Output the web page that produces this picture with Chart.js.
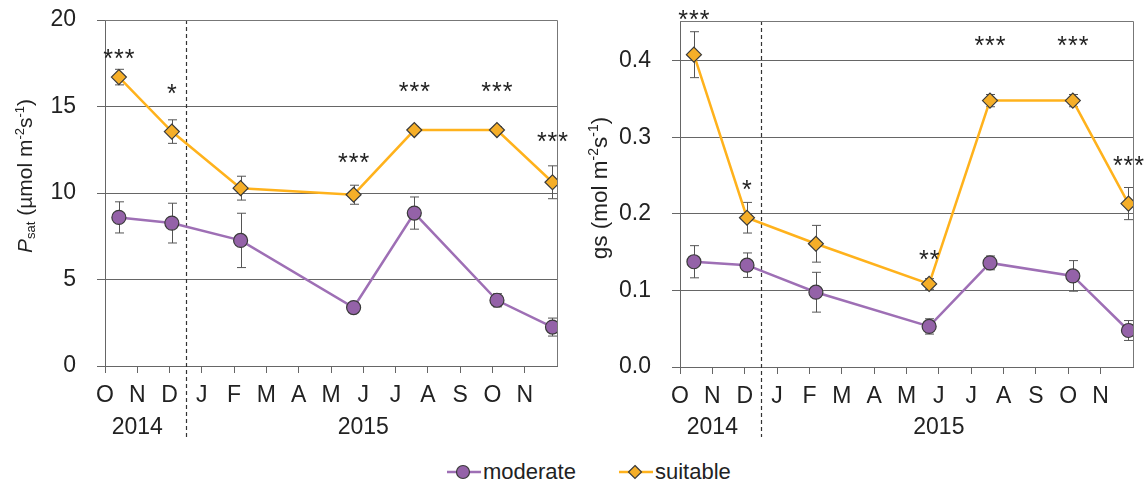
<!DOCTYPE html>
<html>
<head>
<meta charset="utf-8">
<script src="https://cdn.jsdelivr.net/npm/chart.js@4.4.1/dist/chart.umd.min.js"></script>
<style>
  html, body { margin: 0; padding: 0; background: #fff; }
  body { width: 1148px; height: 483px; position: relative; overflow: hidden; font-family: "Liberation Sans", Arial, sans-serif; }
  .panel { position: absolute; top: 0; height: 450px; }
  #legend { position: absolute; left: 447px; top: 459px; height: 26px; display: flex; align-items: center; font-size: 22px; color: #222; }
  #legend .item { display: flex; align-items: center; }
  #legend svg { display: block; margin-right: 2px; }
</style>
</head>
<body>
<div class="panel" style="left:0;width:572px"><canvas id="psat"></canvas></div>
<div class="panel" style="left:575px;width:573px"><canvas id="gs"></canvas></div>
<div id="legend">
  <div class="item"><svg width="34" height="18"><line x1="0" y1="9" x2="34" y2="9" stroke="#9e6fb5" stroke-width="2.5"/><circle cx="16" cy="9" r="6.5" fill="#9462a8" stroke="#3a3a3a" stroke-width="1.2"/></svg><span>moderate</span></div>
  <div class="item" style="margin-left:43px"><svg width="34" height="18"><line x1="0" y1="9" x2="34" y2="9" stroke="#ffb21c" stroke-width="2.5"/><polygon points="16,2.5 22.5,9 16,15.5 9.5,9" fill="#f5ae28" stroke="#3a3a3a" stroke-width="1.2"/></svg><span>suitable</span></div>
</div>
<script>
// months since 1 Oct 2014
const months = ['O', 'N', 'D', 'J', 'F', 'M', 'A', 'M', 'J', 'J', 'A', 'S', 'O', 'N'];
const years = ['2014', '2015'];
const yearPos = [1, 8];
const yearBoundary = 2.5;
const sampleMonths = [0.43, 2.07, 4.2, 7.7, 9.58, 12.14, 13.86];

const psatModerate = [8.59, 8.26, 7.26, 3.38, 8.84, 3.8, 2.25];
const psatModerateErr = [0.9, 1.15, 1.57, 0.2, 0.93, 0.38, 0.52];
const psatSuitable = [16.7, 13.55, 10.28, 9.9, 13.64, 13.64, 10.62];
const psatSuitableErr = [0.45, 0.68, 0.69, 0.55, 0.2, 0.2, 0.95];
const psatStars = ['***', '*', '', '***', '***', '***', '***'];
const psatStarY = [18.1, 16.08, null, 12.1, 16.2, 16.2, 13.3];

const gsModerate = [0.1375, 0.133, 0.0977, 0.053, 0.136, 0.119, 0.0477];
const gsModerateErr = [0.021, 0.016, 0.026, 0.01, 0.009, 0.02, 0.013];
const gsSuitable = [0.408, 0.195, 0.161, 0.1085, 0.348, 0.348, 0.2135];
const gsSuitableErr = [0.03, 0.02, 0.024, 0.007, 0.008, 0.008, 0.021];
const gsStars = ['***', '*', '', '**', '***', '***', '***'];
const gsStarY = [0.462, 0.2396, null, 0.148, 0.4275, 0.4275, 0.271];

const FONT = '"Liberation Sans", Arial, sans-serif';
const INK = '#222';
const GRID = '#666';
const colors = {
  moderate: { line: '#9e6fb5', fill: '#9462a8' },
  suitable: { line: '#ffb21c', fill: '#f5ae28' },
};

function pts(values) {
  return values.map((v, i) => ({ x: sampleMonths[i], y: v }));
}

function drawRich(ctx, parts, size) {
  let widths = parts.map((p) => {
    ctx.font = (p.italic ? 'italic ' : '') + (p.sub || p.sup ? size * 0.62 : size) + 'px ' + FONT;
    return ctx.measureText(p.t).width;
  });
  const total = widths.reduce((a, b) => a + b, 0);
  let x = -total / 2;
  parts.forEach((p, i) => {
    ctx.font = (p.italic ? 'italic ' : '') + (p.sub || p.sup ? size * 0.62 : size) + 'px ' + FONT;
    const dy = p.sub ? size * 0.12 : p.sup ? -size * 0.38 : 0;
    ctx.fillText(p.t, x, dy);
    x += widths[i];
  });
}

function makePanel(canvasId, cfg) {
  const extras = {
    id: 'extras_' + canvasId,
    beforeDatasetsDraw(chart) {
      const { ctx, chartArea } = chart;
      const xs = chart.scales.x, ys = chart.scales.y;
      ctx.save();
      // year boundary
      const bx = Math.round(xs.getPixelForValue(yearBoundary)) + 0.5;
      ctx.strokeStyle = '#333';
      ctx.lineWidth = 1.2;
      ctx.setLineDash([4, 3]);
      ctx.beginPath();
      ctx.moveTo(bx, chartArea.top);
      ctx.lineTo(bx, 437);
      ctx.stroke();
      ctx.setLineDash([]);
      // error bars
      ctx.strokeStyle = '#555';
      ctx.lineWidth = 1;
      cfg.series.forEach((s) => {
        s.values.forEach((v, i) => {
          const px = Math.round(xs.getPixelForValue(sampleMonths[i])) + 0.5;
          const y1 = ys.getPixelForValue(v - s.err[i]);
          const y2 = ys.getPixelForValue(v + s.err[i]);
          ctx.beginPath();
          ctx.moveTo(px, y1); ctx.lineTo(px, y2);
          ctx.moveTo(px - 4.5, y1); ctx.lineTo(px + 4.5, y1);
          ctx.moveTo(px - 4.5, y2); ctx.lineTo(px + 4.5, y2);
          ctx.stroke();
        });
      });
      ctx.restore();
    },
    afterDraw(chart) {
      const { ctx, chartArea } = chart;
      const xs = chart.scales.x, ys = chart.scales.y;
      ctx.save();
      // frame top/right
      ctx.strokeStyle = '#777';
      ctx.lineWidth = 1;
      ctx.beginPath();
      ctx.moveTo(chartArea.left, Math.round(chartArea.top) + 0.5);
      ctx.lineTo(Math.round(chartArea.right) + 0.5, Math.round(chartArea.top) + 0.5);
      ctx.lineTo(Math.round(chartArea.right) + 0.5, chartArea.bottom);
      ctx.stroke();
      // significance stars
      ctx.fillStyle = INK;
      ctx.font = '25px ' + FONT;
      ctx.textAlign = 'center';
      ctx.textBaseline = 'alphabetic';
      ctx.letterSpacing = '1px';
      cfg.stars.forEach((s, i) => {
        if (!s) return;
        ctx.fillText(s, xs.getPixelForValue(sampleMonths[i]) + 0.5, ys.getPixelForValue(cfg.starY[i]) + 14.5);
      });
      ctx.letterSpacing = '0px';
      // year labels
      ctx.font = '23px ' + FONT;
      ctx.textBaseline = 'middle';
      years.forEach((t, i) => ctx.fillText(t, xs.getPixelForValue(yearPos[i]), 428));
      // y axis title
      ctx.translate(cfg.titleX, cfg.titleY);
      ctx.rotate(-Math.PI / 2);
      ctx.textAlign = 'left';
      ctx.textBaseline = 'alphabetic';
      drawRich(ctx, cfg.title, cfg.titleSize);
      ctx.restore();
    },
  };

  return new Chart(document.getElementById(canvasId), {
    type: 'line',
    data: {
      datasets: cfg.series.map((s) => ({
        label: s.label,
        data: pts(s.values),
        borderColor: colors[s.label].line,
        backgroundColor: colors[s.label].fill,
        borderWidth: 2.5,
        pointStyle: s.label === 'moderate' ? 'circle' : 'rectRot',
        pointRadius: s.label === 'moderate' ? 7 : 7.5,
        pointBorderColor: '#3a3a3a',
        pointBorderWidth: 1.2,
        tension: 0,
        fill: false,
      })),
    },
    options: {
      responsive: true, maintainAspectRatio: false, animation: false,
      layout: { padding: { top: cfg.top, right: 15, left: 0, bottom: 0 } },
      plugins: { legend: { display: false }, tooltip: { enabled: false } },
      scales: {
        x: {
          type: 'linear', min: 0, max: months.length,
          afterBuildTicks: (scale) => { scale.ticks = scale.ticks.filter((t) => t.value < months.length); },
          afterFit: (scale) => { scale.height = cfg.xHeight; scale.paddingLeft = 0; scale.paddingRight = 0; },
          ticks: { stepSize: 1, autoSkip: false, maxRotation: 0, padding: 9, color: INK, font: { family: FONT, size: 23 }, callback: (v) => months[v] || '' },
          grid: { drawOnChartArea: false, tickLength: 7, color: GRID },
          border: { color: GRID },
        },
        y: {
          min: 0, max: cfg.yMax,
          afterFit: (scale) => { scale.width = 105; scale.paddingTop = 0; scale.paddingBottom = 0; },
          ticks: { stepSize: cfg.yStep, includeBounds: false, padding: 21, color: INK, font: { family: FONT, size: 23 }, callback: cfg.yFormat },
          grid: { color: GRID, tickLength: 8 },
          border: { color: GRID },
        },
      },
    },
    plugins: [extras],
  });
}

makePanel('psat', {
  series: [
    { label: 'moderate', values: psatModerate, err: psatModerateErr },
    { label: 'suitable', values: psatSuitable, err: psatSuitableErr },
  ],
  stars: psatStars, starY: psatStarY,
  yMax: 20, yStep: 5, yFormat: (v) => String(v),
  top: 20, xHeight: 84,
  titleX: 32, titleY: 176, titleSize: 21,
  title: [{ t: 'P', italic: true }, { t: 'sat', sub: true }, { t: ' (µmol m' }, { t: '-2', sup: true }, { t: 's' }, { t: '-1', sup: true }, { t: ')' }],
});

makePanel('gs', {
  series: [
    { label: 'moderate', values: gsModerate, err: gsModerateErr },
    { label: 'suitable', values: gsSuitable, err: gsSuitableErr },
  ],
  stars: gsStars, starY: gsStarY,
  yMax: 0.452, yStep: 0.1, yFormat: (v) => v.toFixed(1),
  top: 21, xHeight: 83,
  titleX: 32, titleY: 188, titleSize: 22.5,
  title: [{ t: 'gs (mol m' }, { t: '-2', sup: true }, { t: 's' }, { t: '-1', sup: true }, { t: ')' }],
});
</script>
</body>
</html>
